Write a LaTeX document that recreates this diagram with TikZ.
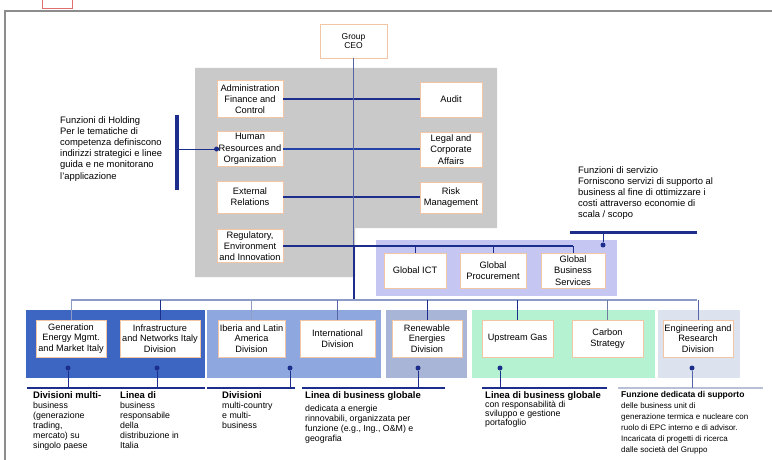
\documentclass[tikz,border=0pt]{standalone}
\usepackage{fontspec}
\setmainfont{Liberation Sans}
\definecolor{navy}{HTML}{1C2D8C}
\definecolor{hrblue}{HTML}{2342A8}
\definecolor{ceoline}{HTML}{5565A8}
\definecolor{panelgray}{HTML}{C9C9C9}
\definecolor{peach}{HTML}{F2C6A4}
\definecolor{lav}{HTML}{C5C6F2}
\definecolor{bandA}{HTML}{3D66C2}
\definecolor{bandB}{HTML}{8EA7DE}
\definecolor{bandC}{HTML}{A8B5D6}
\definecolor{bandD}{HTML}{B4F2D2}
\definecolor{bandE}{HTML}{DDE3EE}
\definecolor{busgray}{HTML}{8D9CC6}
\definecolor{framegray}{HTML}{8C8C8C}
\definecolor{lightline}{HTML}{B8C0D8}
\definecolor{tagred}{HTML}{E07070}
\newcommand\mydtitle[1]{{\fontsize{9.5}{10}\selectfont\bfseries #1}}
\begin{document}
\begin{tikzpicture}[x=1pt,y=-1pt,
  box/.style={draw=peach, fill=white, line width=0.8pt, align=center, inner sep=1pt,
              font=\fontsize{9.3}{11.3}\selectfont},
  dbox/.style={box, font=\fontsize{9.2}{10.5}\selectfont, minimum height=37pt},
  note/.style={align=left, anchor=north west, inner sep=0pt, font=\fontsize{9.4}{11.2}\selectfont},
  desc/.style={align=left, anchor=north west, inner sep=0pt, font=\fontsize{8.8}{10}\selectfont},
  dotn/.style={circle, fill=navy, inner sep=0pt, minimum size=5pt},
  conn/.style={draw=navy, line width=1.3pt},
  thin/.style={draw=navy, line width=0.8pt}]
\useasboundingbox (0,0) rectangle (772,460);
% frame and tag
\draw[tagred, fill=white, line width=1pt] (42,-4) rectangle (72,9);
\draw[framegray, line width=1.5pt] (5,460) -- (5,11) -- (772,11);

% gray panel
\fill[panelgray] (195,68) -- (497,68) -- (497,228) -- (355,228) -- (355,277) -- (195,277) -- cycle;
% lavender service panel
\fill[lav] (376,240) rectangle (617,296);
% division bands
\fill[bandA] (26,310) rectangle (205,378);
\fill[bandB] (207,310) rectangle (381,378);
\fill[bandC] (386,310) rectangle (467,378);
\fill[bandD] (472,310) rectangle (655,378);
\fill[bandE] (658,310) rectangle (740,378);

% top nodes
\node[box, minimum width=67pt, minimum height=34pt, font=\fontsize{8.5}{9.5}\selectfont] (ceo) at (353.5,41) {Group\\CEO};
\node[box, minimum width=66pt, minimum height=37pt] (admin) at (250,99) {Administration\\Finance and\\Control};
\node[box, minimum width=66pt, minimum height=35pt] (hr) at (250,149) {Human\\Resources and\\Organization};
\node[box, minimum width=66pt, minimum height=32pt] (ext) at (250,197) {External\\Relations};
\node[box, minimum width=66pt, minimum height=33pt] (reg) at (250,246) {Regulatory,\\Environment\\and Innovation};
\node[box, minimum width=62pt, minimum height=35pt] (audit) at (451,99.5) {Audit};
\node[box, minimum width=62pt, minimum height=35pt] (legal) at (451,149.5) {Legal and\\Corporate\\Affairs};
\node[box, minimum width=62pt, minimum height=31pt] (risk) at (451,197.5) {Risk\\Management};

\node[box, minimum width=62pt, minimum height=35pt] (ict) at (415,270.5) {Global ICT};
\node[box, minimum width=66pt, minimum height=35pt] (proc) at (493,270.5) {Global\\Procurement};
\node[box, minimum width=64pt, minimum height=35pt] (gbs) at (573,270.5) {Global\\Business\\Services};

% division boxes
\node[dbox, minimum width=70pt] (gen) at (71,338.5) {Generation\\Energy Mgmt.\\and Market Italy};
\node[dbox, minimum width=80pt] (infra) at (160,338.5) {Infrastructure\\and Networks Italy\\Division};
\node[dbox, minimum width=67pt] (iber) at (251.5,338.5) {Iberia and Latin\\America\\Division};
\node[dbox, minimum width=75pt] (intl) at (337.5,338.5) {International\\Division};
\node[dbox, minimum width=70pt] (ren) at (427,338.5) {Renewable\\Energies\\Division};
\node[dbox, minimum width=71pt] (ups) at (517.5,338.5) {Upstream Gas};
\node[dbox, minimum width=71pt] (carb) at (607.5,338.5) {Carbon\\Strategy};
\node[dbox, minimum width=70pt] (eng) at (698,338.5) {Engineering and\\Research\\Division};

% coordinates
\coordinate (hub) at (353.5,300);
\coordinate (busR) at (697,300);
\coordinate (hbarT) at (177,115);
\coordinate (hbarB) at (177,190);
\coordinate (sbarL) at (570,232);
\coordinate (sbarR) at (697,232);
\coordinate (sbarM) at (603,232);

% panel connectors
\draw[conn] (admin.east) -- (admin.east -| audit.west);
\draw[hrblue, line width=2.4pt] (hr.east) -- (hr.east -| legal.west);
\draw[conn] (ext.east) -- (ext.east -| risk.west);
\draw[ceoline, line width=0.8pt] (ceo.south) -- (ceo.south |- reg.east);
\draw[navy, line width=1.8pt] (reg.east) -- (reg.east -| gbs.north);
\draw[navy, line width=2pt] (ceo.south |- reg.east) -- (hub);
\draw[thin] (ict.north |- reg.east) -- (ict.north);
\draw[thin] (proc.north |- reg.east) -- (proc.north);
\draw[thin] (gbs.north |- reg.east) -- (gbs.north);

% holding note
\draw[navy, line width=4pt] (hbarT) -- (hbarB);
\draw[navy, line width=1pt] (hr.west -| hbarT) -- (hr.west);
\node[dotn] (hdot) at (hr.west) {};
\node[note] (hnote) at (60,116) {Funzioni di Holding\\Per le tematiche di\\competenza definiscono\\indirizzi strategici e linee\\guida e ne monitorano\\l'applicazione};

% service note
\node[note] (snote) at (578,166) {Funzioni di servizio\\Forniscono servizi di supporto al\\business al fine di ottimizzare i\\costi attraverso economie di\\scala / scopo};
\draw[navy, line width=3pt] (sbarL) -- (sbarR);
\node[dotn] (sdot) at (603,245) {};
\draw[navy, line width=1pt] (sbarM) -- (sdot);

% division bus
\draw[busgray, line width=2pt] (gen.north |- hub) -- (busR);
\draw[busgray, line width=1pt] (gen.north |- hub) -- (gen.north);
\draw[navy, line width=1pt] (infra.north |- hub) -- (infra.north);
\draw[busgray, line width=1pt] (iber.north |- hub) -- (iber.north);
\draw[ceoline, line width=1pt] (intl.north |- hub) -- (intl.north);
\draw[navy, line width=1pt] (ren.north |- hub) -- (ren.north);
\draw[navy, line width=1.2pt] (ups.north |- hub) -- (ups.north);
\draw[busgray!80!black, line width=1pt] (carb.north |- hub) -- (carb.north);
\draw[ceoline, line width=1pt] (eng.north |- busR) -- (eng.north);

% dots below bands
\node[dotn] (d1) at (68,368) {};
\node[dotn] (d2) at (157,368) {};
\node[dotn] (d3) at (290,368) {};
\node[dotn] (d4) at (418,368) {};
\node[dotn] (d5) at (500,368) {};
\node[dotn] (d6) at (692,368) {};
\coordinate (l1a) at (27,388); \coordinate (l1b) at (205,388);
\coordinate (l2a) at (207,388); \coordinate (l2b) at (295,388);
\coordinate (l3a) at (302,388); \coordinate (l3b) at (445,388);
\coordinate (l4a) at (482,388); \coordinate (l4b) at (607,388);
\coordinate (l5a) at (618,388); \coordinate (l5b) at (763,388);
\draw[navy, line width=2pt] (l1a) -- (l1b);
\draw[navy, line width=2pt] (l2a) -- (l2b);
\draw[navy, line width=2pt] (l3a) -- (l3b);
\draw[navy, line width=2pt] (l4a) -- (l4b);
\draw[lightline, line width=1.2pt] (l5a) -- (l5b);
\draw[thin] (d1) -- (d1 |- l1a);
\draw[thin] (d2) -- (d2 |- l1a);
\draw[thin] (d3) -- (d3 |- l2a);
\draw[thin] (d4) -- (d4 |- l3a);
\draw[thin] (d5) -- (d5 |- l4a);
\draw[ceoline, line width=0.8pt] (d6) -- (d6 |- l5a);

% descriptions
\node[desc] (t1) at (33,391) {\mydtitle{Divisioni multi-}\\business\\(generazione\\trading,\\mercato) su\\singolo paese};
\node[desc] (t2) at (120,391) {\mydtitle{Linea di}\\business\\responsabile\\della\\distribuzione in\\Italia};
\node[desc] (t3) at (222,391) {\mydtitle{Divisioni}\\multi-country\\e multi-\\business};
\node[desc] (t4) at (305,391) {\mydtitle{Linea di business globale}\\[3pt]dedicata a energie\\rinnovabili, organizzata per\\funzione (e.g., Ing., O\&M) e\\geografia};
\node[desc, font=\fontsize{8.8}{9}\selectfont] (t5) at (485,391) {\mydtitle{Linea di business globale}\\con responsabilità di\\sviluppo e gestione\\portafoglio};
\node[desc, font=\fontsize{8}{11}\selectfont] (t6) at (621,391) {{\fontsize{8.5}{10}\selectfont\bfseries Funzione dedicata di supporto}\\delle business unit di\\generazione termica e nucleare con\\ruolo di EPC interno e di advisor.\\Incaricata di progetti di ricerca\\dalle società del Gruppo};
\end{tikzpicture}
\end{document}
